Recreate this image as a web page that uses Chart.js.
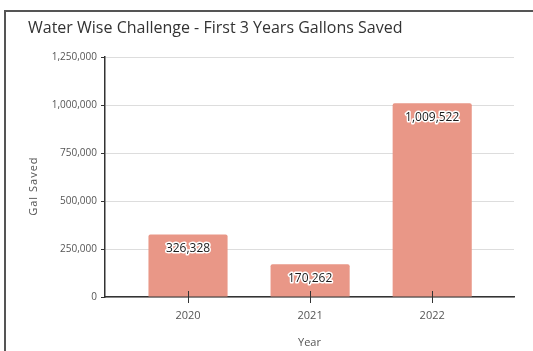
<!DOCTYPE html>
<html>
<head>
<meta charset="utf-8">
<script src="https://cdn.jsdelivr.net/npm/chart.js@4.4.1/dist/chart.umd.min.js"></script>
<style>
    html, body { margin: 0; padding: 0; background: #fff; overflow: hidden; }
    #frame {
        position: absolute; left: 4px; top: 10px; width: 600px; height: 400px;
        border-left: 2px solid #555; border-top: 2px solid #555;
    }
    #wrap { position: absolute; left: 0; top: 0; width: 533px; height: 351px; }
</style>
</head>
<body>
<div id="frame"></div>
<div id="wrap"><canvas id="gallonsChart"></canvas></div>
<script>
const years = ["2020", "2021", "2022"];
const gallonsSaved = [326328, 170262, 1009522];
const yTicks = [0, 250000, 500000, 750000, 1000000, 1250000];
const yTitle = "Gal Saved";

const FONT = '"Open Sans", "Noto Sans", sans-serif';

// value labels inside bar tops, x tick marks crossing the axis, spaced y title
const barExtras = {
    id: "barExtras",
    afterDatasetsDraw(chart) {
        const ctx = chart.ctx;
        const area = chart.chartArea;
        const xScale = chart.scales.x;
        ctx.save();
        ctx.strokeStyle = "#333";
        ctx.lineWidth = 1;
        xScale.ticks.forEach((t) => {
            const px = Math.round(xScale.getPixelForValue(t.value)) + 0.5;
            ctx.beginPath();
            ctx.moveTo(px, area.bottom - 6);
            ctx.lineTo(px, area.bottom + 6);
            ctx.stroke();
        });
        ctx.font = "12px " + FONT;
        ctx.textAlign = "center";
        ctx.textBaseline = "middle";
        ctx.lineJoin = "round";
        ctx.lineWidth = 3;
        ctx.strokeStyle = "#fff";
        ctx.fillStyle = "#1a1a1a";
        chart.getDatasetMeta(0).data.forEach((bar, i) => {
            const text = gallonsSaved[i].toLocaleString("en-US");
            ctx.strokeText(text, bar.x, bar.y + 14);
            ctx.fillText(text, bar.x, bar.y + 14);
        });
        // y axis title
        ctx.translate(34, (area.top + area.bottom) / 2 + 9);
        ctx.rotate(-Math.PI / 2);
        ctx.font = "11px " + FONT;
        ctx.letterSpacing = "1px";
        ctx.fillStyle = "#555";
        ctx.fillText(yTitle, 0, 0);
        ctx.restore();
    },
};

new Chart(document.getElementById("gallonsChart").getContext("2d"), {
    type: "bar",
    data: {
        datasets: [
            {
                label: yTitle,
                data: years.map((y, i) => ({ x: i, y: gallonsSaved[i] })),
                backgroundColor: "#e99787",
                borderRadius: { topLeft: 2, topRight: 2 },
                borderSkipped: "bottom",
                categoryPercentage: 0.8,
                barPercentage: 0.81,
            },
        ],
    },
    options: {
        responsive: true,
        maintainAspectRatio: false,
        animation: false,
        layout: { padding: { left: 28, right: 19, top: 0, bottom: 2 } },
        plugins: {
            legend: { display: false },
            tooltip: { enabled: false },
            title: {
                display: true,
                text: "Water Wise Challenge - First 3 Years Gallons Saved",
                align: "start",
                color: "#333",
                font: { family: FONT, size: 16, weight: "normal" },
                padding: { top: 19, bottom: 19 },
            },
        },
        scales: {
            x: {
                type: "linear",
                offset: false,
                min: -0.68,
                max: 2.67,
                afterBuildTicks: (s) => {
                    s.ticks = years.map((_, i) => ({ value: i }));
                },
                afterFit: (s) => {
                    s.height = 52;
                },
                grid: { display: true, drawOnChartArea: false, drawTicks: false },
                border: { display: true, color: "#333", width: 1.5 },
                ticks: {
                    padding: 12,
                    color: "#555",
                    font: { family: FONT, size: 11 },
                    callback: (v) => years[v],
                },
                title: {
                    display: true,
                    text: "Year",
                    color: "#555",
                    font: { family: FONT, size: 11 },
                    padding: { top: 0, bottom: 0 },
                },
            },
            y: {
                min: 0,
                max: 1250000,
                afterBuildTicks: (s) => {
                    s.ticks = yTicks.map((v) => ({ value: v }));
                },
                afterFit: (s) => {
                    s.width = 77;
                },
                grid: { color: "#ddd", tickColor: "#333", tickLength: 4 },
                border: { display: true, color: "#333", width: 1.5 },
                ticks: {
                    padding: 4,
                    color: "#555",
                    font: { family: FONT, size: 10 },
                    callback: (v) => v.toLocaleString("en-US"),
                },
            },
        },
    },
    plugins: [barExtras],
});
</script>
</body>
</html>
